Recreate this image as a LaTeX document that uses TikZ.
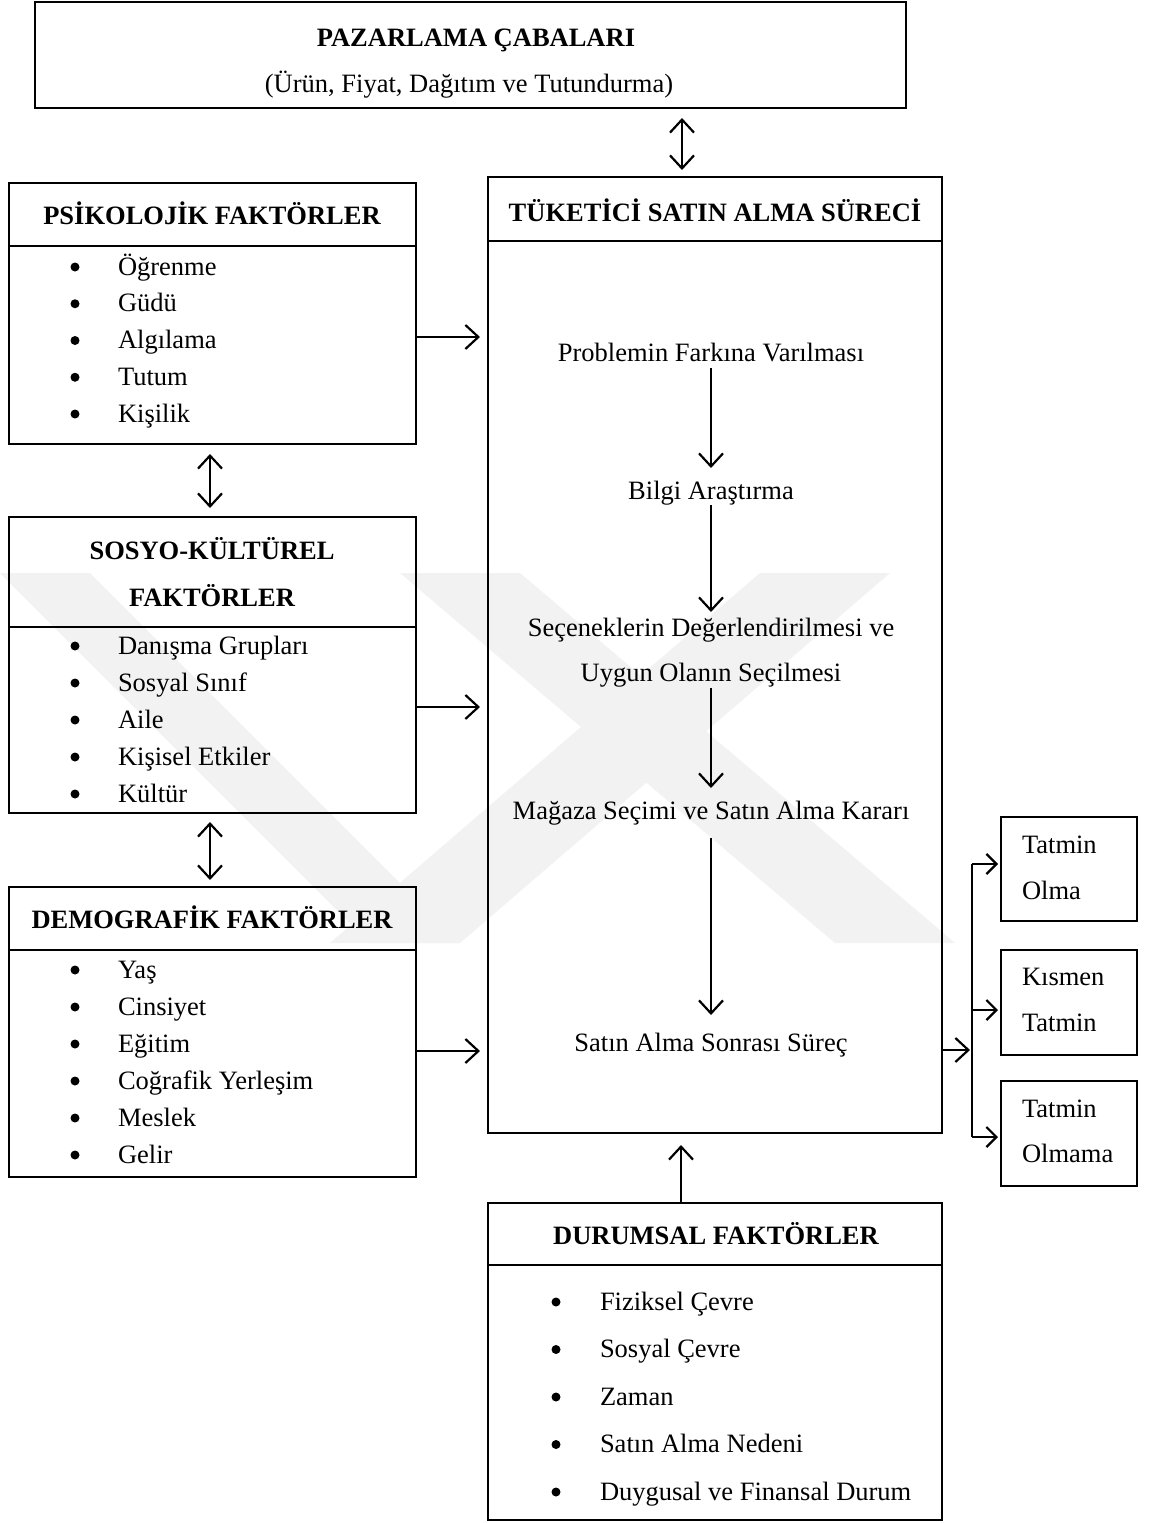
\documentclass[tikz,border=0pt]{standalone}
\usepackage{fontspec}
\setmainfont{Liberation Serif}
\usetikzlibrary{arrows.meta}
\begin{document}
\begin{tikzpicture}[x=1pt,y=-1pt,
  every node/.style={font=\fontsize{26.5}{32}\selectfont, inner sep=0pt, outer sep=0pt,
                     text height=18pt, text depth=6pt},
  box/.style={draw, line width=2.4pt, anchor=north west},
  rule/.style={line width=2.4pt},
  ttl/.style={anchor=base, font=\fontsize{26.5}{32}\selectfont\bfseries},
  txt/.style={anchor=base},
  item/.style={anchor=base west},
  bul/.style={circle, fill, minimum size=9pt, text height=, text depth=},
  arr/.style={line width=2.2pt, -{Straight Barb[length=13pt,width=24pt]}},
  darr/.style={line width=2.2pt, {Straight Barb[length=13pt,width=24pt]}-{Straight Barb[length=13pt,width=24pt]}},
  sarr/.style={line width=2.2pt, -{Straight Barb[length=10pt,width=20pt]}},
  wm/.style={fill=black!5}
]
\useasboundingbox (0,0) rectangle (1149,1523);
\fill[white] (0,0) rectangle (1149,1523);

% faint background emblem
\fill[wm] (0,573) -- (90,573) -- (460,943) -- (370,943) -- cycle;
\fill[wm] (400,573) -- (520,573) -- (955,943) -- (835,943) -- cycle;
\fill[wm] (760,573) -- (890,573) -- (460,943) -- (330,943) -- cycle;

% frames
\node[box, minimum width=871pt, minimum height=106pt] (mkt) at (35,2) {};
\node[box, minimum width=454pt, minimum height=956pt] (cons) at (488,177) {};
\node[box, minimum width=407pt, minimum height=261pt] (psy) at (9,183) {};
\node[box, minimum width=407pt, minimum height=296pt] (soc) at (9,517) {};
\node[box, minimum width=407pt, minimum height=290pt] (dem) at (9,887) {};
\node[box, minimum width=454pt, minimum height=317pt] (sit) at (488,1203) {};
\node[box, minimum width=136pt, minimum height=104pt] (o1) at (1001,817) {};
\node[box, minimum width=136pt, minimum height=105pt] (o2) at (1001,950) {};
\node[box, minimum width=136pt, minimum height=105pt] (o3) at (1001,1081) {};

% header dividers
\draw[rule] (cons.west |- 0,241) -- (cons.east |- 0,241);
\draw[rule] (psy.west |- 0,246) -- (psy.east |- 0,246);
\draw[rule] (soc.west |- 0,627) -- (soc.east |- 0,627);
\draw[rule] (dem.west |- 0,950) -- (dem.east |- 0,950);
\draw[rule] (sit.west |- 0,1265) -- (sit.east |- 0,1265);

% headings
\node[ttl] (mktT) at (476,46) {PAZARLAMA ÇABALARI};
\node[txt] (mktS) at (469,92) {(Ürün, Fiyat, Dağıtım ve Tutundurma)};
\node[ttl] (consT) at (715,221) {TÜKETİCİ SATIN ALMA SÜRECİ};
\node[ttl] (psyT) at (212,224) {PSİKOLOJİK FAKTÖRLER};
\node[ttl] (socT1) at (212,559) {SOSYO-KÜLTÜREL};
\node[ttl] (socT2) at (212,606) {FAKTÖRLER};
\node[ttl] (demT) at (212,928) {DEMOGRAFİK FAKTÖRLER};
\node[ttl] (sitT) at (716,1244) {DURUMSAL FAKTÖRLER};

% bullet lists
\foreach \t [count=\i] in {Öğrenme, Güdü, Algılama, Tutum, Kişilik} {
  \node[bul] (psyb\i) at (75,{267+36.75*(\i-1)}) {};
  \node[item] (psyi\i) at (118,{275+36.75*(\i-1)}) {\t};
}
\foreach \t [count=\i] in {Danışma Grupları, Sosyal Sınıf, Aile, Kişisel Etkiler, Kültür} {
  \node[bul] (socb\i) at (75,{646+37*(\i-1)}) {};
  \node[item] (soci\i) at (118,{654+37*(\i-1)}) {\t};
}
\foreach \t [count=\i] in {Yaş, Cinsiyet, Eğitim, Coğrafik Yerleşim, Meslek, Gelir} {
  \node[bul] (demb\i) at (75,{970+37*(\i-1)}) {};
  \node[item] (demi\i) at (118,{978+37*(\i-1)}) {\t};
}
\foreach \t [count=\i] in {Fiziksel Çevre, Sosyal Çevre, Zaman, Satın Alma Nedeni, Duygusal ve Finansal Durum} {
  \node[bul] (sitb\i) at (556,{1302+47.5*(\i-1)}) {};
  \node[item] (siti\i) at (600,{1310+47.5*(\i-1)}) {\t};
}

% decision steps
\node[txt] (s1) at (711,361) {Problemin Farkına Varılması};
\node[txt] (s2) at (711,499) {Bilgi Araştırma};
\node[txt] (s3a) at (711,636) {Seçeneklerin Değerlendirilmesi ve};
\node[txt] (s3b) at (711,681) {Uygun Olanın Seçilmesi};
\node[txt] (s4) at (711,819) {Mağaza Seçimi ve Satın Alma Kararı};
\node[txt] (s5) at (711,1051) {Satın Alma Sonrası Süreç};

\draw[arr, shorten <=1pt, shorten >=13pt] (s1) -- (s2);
\draw[arr, shorten >=6pt] (s2) -- (s3a);
\draw[arr, shorten <=1pt, shorten >=13pt] (s3b) -- (s4);
\draw[arr, shorten <=13pt, shorten >=18pt] (s4) -- (s5);

% outcomes
\node[item] (o1a) at (1022,853) {Tatmin};
\node[item] (o1b) at (1022,899) {Olma};
\node[item] (o2a) at (1022,985) {Kısmen};
\node[item] (o2b) at (1022,1031) {Tatmin};
\node[item] (o3a) at (1022,1117) {Tatmin};
\node[item] (o3b) at (1022,1162) {Olmama};

% influences
\draw[darr, shorten <=10pt, shorten >=7pt] (682,0 |- mkt.south) -- (682,0 |- cons.north);
\draw[darr, shorten <=10pt, shorten >=9pt] (210,0 |- psy.south) -- (210,0 |- soc.north);
\draw[darr, shorten <=9pt, shorten >=7pt] (210,0 |- soc.south) -- (210,0 |- dem.north);
\draw[arr, shorten >=8pt] (psy.east |- 0,337) -- (cons.west |- 0,337);
\draw[arr, shorten >=8pt] (soc.east |- 0,707) -- (cons.west |- 0,707);
\draw[arr, shorten >=8pt] (dem.east |- 0,1051) -- (cons.west |- 0,1051);
\draw[arr, shorten >=12pt] (681,0 |- sit.north) -- (681,0 |- cons.south);

% fork to outcomes
\coordinate (fk) at (972,1050);
\coordinate (fkt) at (972,864);
\coordinate (fkm) at (972,1010);
\coordinate (fkb) at (972,1137);
\draw[arr, shorten >=2pt] (cons.east |- fk) -- (fk);
\draw[rule, line width=2.2pt] (fkt) -- (fkb);
\draw[sarr, shorten >=3pt] (fkt) -- (o1.west |- fkt);
\draw[sarr, shorten >=3pt] (fkm) -- (o2.west |- fkm);
\draw[sarr, shorten >=3pt] (fkb) -- (o3.west |- fkb);
\end{tikzpicture}
\end{document}
